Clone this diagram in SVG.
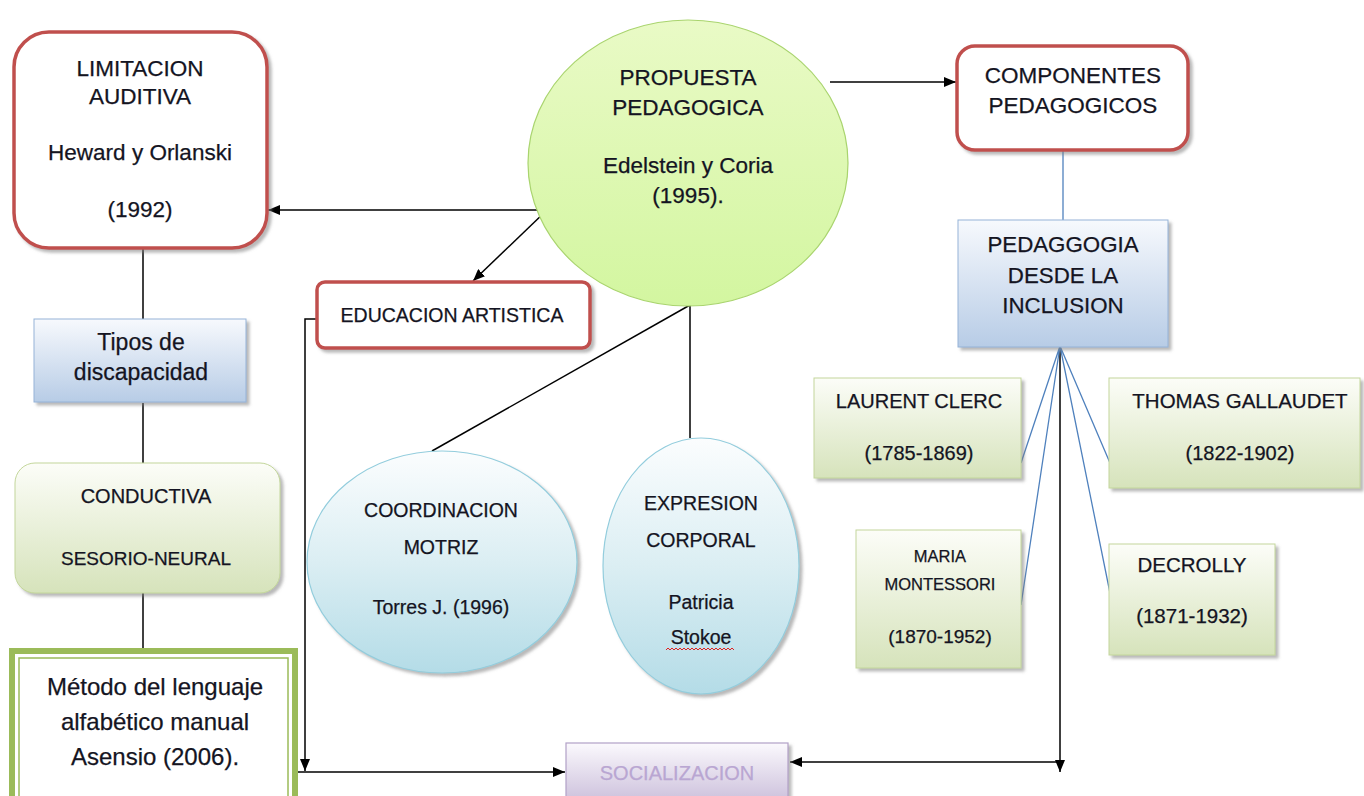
<svg xmlns="http://www.w3.org/2000/svg" width="1364" height="796" viewBox="0 0 1364 796">
<defs>
<style>
text{font-family:"Liberation Sans",Arial,sans-serif;fill:#141422;stroke:#141422;stroke-width:0.25;text-anchor:middle}
.red{fill:#fff;stroke:#c0504d;stroke-width:3.5}
.blue{fill:url(#gBlue);stroke:#95b3d7;stroke-width:1}
.green{fill:url(#gGreen);stroke:#c3d69b;stroke-width:1}
.cyan{fill:url(#gCyan);stroke:#93cddd;stroke-width:1.2}
.con{fill:none;stroke:#000;stroke-width:1.5}
.bcon{fill:none;stroke:#4f81bd;stroke-width:1.3}
</style>
<linearGradient id="gBlue" x1="0" y1="0" x2="0" y2="1"><stop offset="0" stop-color="#f7f9fd"/><stop offset="1" stop-color="#b7cce6"/></linearGradient>
<linearGradient id="gGreen" x1="0" y1="0" x2="0" y2="1"><stop offset="0" stop-color="#fcfdf8"/><stop offset="1" stop-color="#d6e3bb"/></linearGradient>
<linearGradient id="gCyan" x1="0" y1="0" x2="0" y2="1"><stop offset="0" stop-color="#fbfdfe"/><stop offset="0.5" stop-color="#dbeef3"/><stop offset="1" stop-color="#b4dce7"/></linearGradient>
<linearGradient id="gLime" x1="0" y1="0" x2="0" y2="1"><stop offset="0" stop-color="#e9fac6"/><stop offset="1" stop-color="#d3f6a0"/></linearGradient>
<linearGradient id="gPurple" x1="0" y1="0" x2="0" y2="1"><stop offset="0" stop-color="#fbf9fd"/><stop offset="1" stop-color="#cbbfdb"/></linearGradient>
<filter id="sh" x="-10%" y="-10%" width="130%" height="140%"><feDropShadow dx="3" dy="3" stdDeviation="1.5" flood-color="#7f7f7f" flood-opacity="0.55"/></filter>
<marker id="ah" viewBox="0 0 12 10" refX="12" refY="5" markerWidth="12" markerHeight="10" orient="auto" markerUnits="userSpaceOnUse"><path d="M0,0 L12,5 L0,10 z" fill="#000"/></marker>
</defs>
<rect width="1364" height="796" fill="#fff"/>

<g id="connectors">
<path class="con" d="M547,210 H268" marker-end="url(#ah)"/>
<path class="con" d="M547,210 L473,281" marker-end="url(#ah)"/>
<path class="con" d="M830,82 H956" marker-end="url(#ah)"/>
<path class="con" d="M143,248 V319"/>
<path class="con" d="M143,403 V463"/>
<path class="con" d="M143,593 V648"/>
<path class="con" d="M316,319 H305 V771" marker-end="url(#ah)"/>
<path class="con" d="M298,772 H565" marker-end="url(#ah)"/>
<path class="con" d="M690,305 L432,451"/>
<path class="con" d="M690,305 V438"/>
<path class="con" d="M1060,348 V772" marker-end="url(#ah)"/>
<path class="con" d="M1060,762 H790" marker-end="url(#ah)"/>
<path class="bcon" d="M1063,150 V220"/>
<path class="bcon" d="M1060,346 L1021,463 M1060,346 L1021,605 M1060,346 L1110,463 M1060,346 L1110,593"/>
</g>

<g id="limitacion">
<rect class="red" x="14" y="32" width="253" height="216" rx="35" filter="url(#sh)"/>
<text x="140" y="76" font-size="22.5">LIMITACION</text>
<text x="140" y="104" font-size="22.5">AUDITIVA</text>
<text x="140" y="160" font-size="22.5">Heward y Orlanski</text>
<text x="140" y="217" font-size="22.5">(1992)</text>
</g>

<g id="propuesta">
<ellipse cx="688" cy="163" rx="160" ry="143" fill="url(#gLime)" stroke="#a9d46e" stroke-width="1.2"/>
<text x="688" y="85" font-size="22.5">PROPUESTA</text>
<text x="688" y="115" font-size="22.5">PEDAGOGICA</text>
<text x="688" y="173" font-size="22.5">Edelstein y Coria</text>
<text x="688" y="203" font-size="22.5">(1995).</text>
</g>

<g id="componentes">
<rect class="red" x="957" y="46" width="231" height="104" rx="18" filter="url(#sh)"/>
<text x="1073" y="83" font-size="22.5">COMPONENTES</text>
<text x="1073" y="113" font-size="22.5">PEDAGOGICOS</text>
</g>

<g id="pedaggogia">
<rect class="blue" x="958" y="220" width="210" height="127" filter="url(#sh)"/>
<text x="1063" y="252" font-size="22.3">PEDAGGOGIA</text>
<text x="1063" y="283" font-size="22.3">DESDE LA</text>
<text x="1063" y="313" font-size="22.3">INCLUSION</text>
</g>

<g id="tipos">
<rect class="blue" x="34" y="319" width="212" height="83" filter="url(#sh)"/>
<text x="141" y="350" font-size="23">Tipos de</text>
<text x="141" y="380" font-size="23">discapacidad</text>
</g>

<g id="conductiva">
<rect class="green" x="15" y="463" width="265" height="130" rx="20" filter="url(#sh)"/>
<text x="146" y="503" font-size="20">CONDUCTIVA</text>
<text x="146" y="565" font-size="19">SESORIO-NEURAL</text>
</g>

<g id="metodo">
<rect x="12" y="651" width="283" height="160" fill="#fff" stroke="#9bbb59" stroke-width="6"/>
<rect x="19" y="658" width="269" height="146" fill="none" stroke="#9bbb59" stroke-width="1.5"/>
<text x="155" y="695" font-size="24">Método del lenguaje</text>
<text x="155" y="730" font-size="24">alfabético manual</text>
<text x="155" y="765" font-size="24">Asensio (2006).</text>
</g>

<g id="educacion">
<rect class="red" x="317" y="282" width="273" height="66" rx="8" filter="url(#sh)"/>
<text x="452" y="322" font-size="19.5">EDUCACION ARTISTICA</text>
</g>

<g id="coordinacion">
<ellipse class="cyan" cx="442" cy="562" rx="135" ry="111" filter="url(#sh)"/>
<text x="441" y="517" font-size="19.5">COORDINACION</text>
<text x="441" y="554" font-size="19.5">MOTRIZ</text>
<text x="441" y="614" font-size="19.5">Torres J. (1996)</text>
</g>

<g id="expresion">
<ellipse class="cyan" cx="701" cy="566" rx="98" ry="128" filter="url(#sh)"/>
<text x="701" y="510" font-size="19.5">EXPRESION</text>
<text x="701" y="547" font-size="19.5">CORPORAL</text>
<text x="701" y="609" font-size="19.5">Patricia</text>
<text x="701" y="644" font-size="19.5">Stokoe</text>
<path d="M666,650 l2,-2 l2,2 l2,-2 l2,2 l2,-2 l2,2 l2,-2 l2,2 l2,-2 l2,2 l2,-2 l2,2 l2,-2 l2,2 l2,-2 l2,2 l2,-2 l2,2 l2,-2 l2,2 l2,-2 l2,2 l2,-2 l2,2 l2,-2 l2,2 l2,-2 l2,2 l2,-2 l2,2 l2,-2 l2,2 l2,-2 l2,2" fill="none" stroke="#e02020" stroke-width="1"/>
</g>

<g id="laurent">
<rect class="green" x="814" y="378" width="207" height="100" filter="url(#sh)"/>
<text x="919" y="408" font-size="20">LAURENT CLERC</text>
<text x="919" y="460" font-size="20">(1785-1869)</text>
</g>

<g id="thomas">
<rect class="green" x="1109" y="378" width="251" height="110" filter="url(#sh)"/>
<text x="1240" y="408" font-size="20.5">THOMAS GALLAUDET</text>
<text x="1240" y="460" font-size="20">(1822-1902)</text>
</g>

<g id="maria">
<rect class="green" x="856" y="530" width="165" height="138" filter="url(#sh)"/>
<text x="940" y="562" font-size="16.5">MARIA</text>
<text x="940" y="590" font-size="16.5">MONTESSORI</text>
<text x="940" y="643" font-size="19">(1870-1952)</text>
</g>

<g id="decrolly">
<rect class="green" x="1109" y="544" width="166" height="111" filter="url(#sh)"/>
<text x="1192" y="572" font-size="20.5">DECROLLY</text>
<text x="1192" y="623" font-size="20.5">(1871-1932)</text>
</g>

<g id="socializacion">
<rect x="566" y="743" width="222" height="60" fill="url(#gPurple)" stroke="#b2a1c7" stroke-width="1.2" filter="url(#sh)"/>
<text x="677" y="780" font-size="20" style="fill:#b9a6d2;stroke:#b9a6d2">SOCIALIZACION</text>
</g>
</svg>
